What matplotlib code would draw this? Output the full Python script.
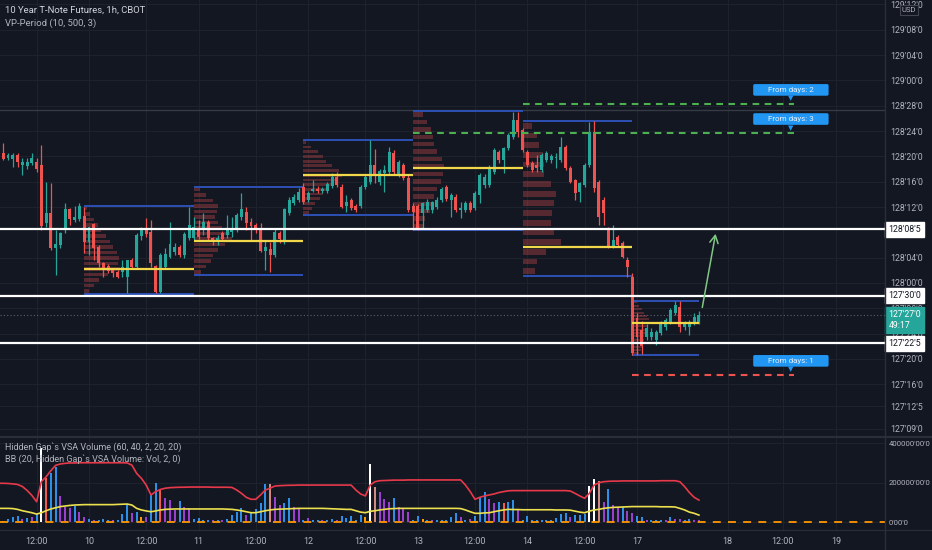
import numpy as np
import matplotlib
matplotlib.use('Agg')
import matplotlib.pyplot as plt
from matplotlib.transforms import blended_transform_factory
from matplotlib.lines import Line2D

# prices are in 32nds above 127'00 (so 128'08'5 -> 40.5)
first_bar = -1

opens = [53.2, 52.5, 51.8, 51.6, 52.2, 50.6, 50.5, 51.0, 51.1, 50.6,
         41.5, 43.0, 37.5, 38.0, 40.4, 43.7, 42.0, 42.1, 42.6, 38.5,
         41.3, 37.7, 35.2, 34.7, 34.2, 33.7, 33.7, 32.9, 35.6, 34.5,
         39.4, 40.7, 40.0, 34.7, 30.6, 34.5, 36.1, 36.9, 37.7, 36.4,
         39.1, 39.1, 40.6, 40.4, 41.6, 39.1, 38.5, 39.9, 39.6, 40.0,
         40.4, 42.4, 43.2, 41.6, 41.2, 40.7, 37.1, 37.4, 36.4, 39.9,
         38.8, 43.1, 44.6, 45.1, 47.2, 45.1, 46.6, 46.8, 46.6, 46.5,
         47.3, 48.7, 47.2, 44.2, 45.1, 44.2, 44.2, 47.2, 47.9, 50.6,
         47.9, 49.4, 49.5, 52.5, 49.1, 50.6, 48.6, 44.2, 44.2, 43.1,
         43.5, 43.6, 44.0, 45.1, 47.2, 45.1, 45.6, 43.5, 43.5, 44.6,
         43.8, 45.9, 47.5, 47.5, 49.5, 52.7, 51.4, 53.3, 55.1, 57.7,
         56.2, 52.7, 51.0, 50.6, 49.9, 51.4, 51.4, 51.7, 51.4, 53.5,
         50.2, 48.3, 46.4, 47.5, 50.6, 55.9, 48.0, 45.1, 40.4, 37.7,
         39.3, 38.3, 35.6, 33.0, 26.5, 24.5, 23.5, 23.5, 23.0, 24.1,
         25.0, 25.8, 27.3, 28.2, 25.0, 25.0, 25.7, 25.7]
highs = [53.6, 54.1, 52.6, 52.5, 52.6, 51.7, 51.8, 52.5, 51.7, 53.8,
         48.0, 47.8, 40.4, 40.1, 44.6, 43.8, 44.1, 44.6, 44.0, 40.9,
         41.5, 38.0, 35.3, 35.0, 34.4, 34.1, 35.6, 35.7, 36.0, 39.9,
         40.8, 42.3, 42.0, 34.8, 36.7, 37.5, 41.6, 38.3, 38.0, 40.0,
         44.0, 42.4, 42.0, 43.0, 42.0, 39.3, 39.5, 40.2, 42.7, 42.4,
         43.0, 46.2, 44.0, 42.3, 41.5, 41.5, 38.8, 38.5, 40.7, 40.2,
         43.9, 45.6, 46.0, 47.0, 47.8, 46.5, 48.3, 47.3, 47.2, 48.0,
         49.3, 49.5, 47.6, 45.9, 45.4, 44.5, 47.5, 49.0, 54.6, 53.2,
         50.0, 50.6, 53.5, 53.0, 51.5, 51.0, 49.0, 44.6, 44.5, 44.8,
         45.2, 45.0, 45.6, 47.1, 47.5, 46.2, 46.0, 44.8, 45.0, 45.0,
         46.5, 49.4, 49.2, 50.6, 53.3, 53.0, 53.5, 55.7, 59.0, 59.0,
         56.5, 53.0, 51.3, 52.2, 52.5, 52.9, 52.4, 52.5, 55.1, 53.8,
         50.5, 48.5, 48.0, 50.9, 57.4, 57.6, 48.3, 45.6, 40.8, 41.2,
         39.6, 38.6, 36.1, 33.6, 27.2, 26.0, 25.5, 24.9, 24.6, 26.0,
         26.5, 28.0, 29.2, 29.2, 26.0, 26.2, 27.3, 27.6]
lows = [52.3, 51.4, 51.5, 50.3, 50.3, 49.1, 50.0, 50.6, 49.6, 40.4,
        40.8, 37.2, 33.3, 37.5, 39.9, 41.2, 41.6, 41.8, 36.7, 36.4,
        35.6, 34.5, 32.9, 33.5, 33.0, 32.8, 32.9, 30.4, 34.2, 34.3,
        38.8, 39.3, 34.5, 30.4, 30.4, 34.3, 35.9, 36.4, 36.1, 35.9,
        38.8, 38.8, 39.0, 39.6, 38.8, 38.0, 38.0, 38.6, 39.1, 39.3,
        40.0, 41.9, 40.4, 38.8, 39.9, 36.9, 34.1, 33.8, 36.1, 38.3,
        38.2, 42.8, 44.3, 44.8, 44.4, 44.8, 46.4, 46.2, 46.2, 46.2,
        47.0, 47.2, 43.8, 43.2, 43.5, 43.2, 43.9, 46.9, 47.6, 47.8,
        47.5, 46.4, 49.2, 49.2, 48.8, 48.3, 43.2, 40.4, 40.3, 40.7,
        43.2, 43.0, 43.7, 44.8, 45.0, 42.4, 43.2, 42.2, 43.2, 43.2,
        43.5, 44.6, 47.0, 47.2, 49.2, 51.0, 49.4, 53.0, 54.8, 55.1,
        52.7, 50.3, 49.6, 49.5, 49.6, 51.1, 51.0, 50.2, 51.1, 49.9,
        47.8, 45.1, 44.8, 47.2, 50.3, 46.4, 41.2, 41.2, 37.5, 37.5,
        37.7, 35.9, 32.9, 20.6, 20.6, 20.8, 23.0, 23.0, 22.2, 23.8,
        24.6, 25.5, 27.0, 24.3, 24.6, 23.8, 25.4, 25.5]
closes = [52.5, 51.6, 52.2, 52.2, 51.1, 51.1, 51.1, 51.7, 50.0, 41.0,
          43.0, 37.5, 38.2, 39.9, 43.7, 42.1, 42.4, 44.2, 38.5, 40.8,
          37.5, 35.2, 34.4, 33.9, 33.6, 32.9, 34.5, 35.6, 34.5, 39.6,
          40.4, 39.7, 35.2, 30.6, 36.4, 36.6, 38.2, 37.7, 36.4, 39.7,
          41.2, 40.8, 39.3, 41.6, 39.1, 38.5, 39.1, 38.9, 40.7, 40.6,
          42.7, 43.7, 41.5, 41.0, 40.4, 37.1, 37.7, 36.4, 40.1, 38.9,
          43.7, 45.1, 45.6, 46.4, 44.8, 46.2, 46.9, 46.6, 46.8, 47.6,
          48.7, 47.5, 44.0, 44.8, 43.8, 43.5, 47.2, 48.7, 50.6, 49.1,
          49.7, 49.9, 52.7, 49.5, 51.1, 48.6, 43.5, 43.2, 40.7, 44.6,
          44.8, 44.8, 45.1, 46.8, 45.3, 45.9, 43.5, 43.8, 44.6, 43.5,
          46.2, 49.1, 48.7, 50.2, 53.0, 51.4, 53.3, 55.4, 57.7, 55.9,
          53.0, 50.6, 49.9, 50.2, 52.2, 52.5, 52.0, 51.8, 53.5, 50.2,
          48.0, 46.2, 47.8, 50.6, 55.9, 47.0, 42.5, 43.1, 37.7, 38.8,
          38.0, 36.1, 34.5, 20.9, 23.5, 22.0, 24.9, 24.3, 24.3, 25.7,
          26.2, 27.7, 28.5, 25.0, 25.7, 25.8, 26.6, 27.0]

# VSA volume (thousands) and bar type: b blue, p purple, r red, s salmon, w white, o orange
volume = [5, 5, 15, 25, 30, 15, 20, 25, 41, 375,
          223, 248, 278, 132, 76, 71, 81, 51, 25, 15,
          10, 10, 15, 10, 8, 10, 41, 91, 46, 51,
          25, 25, 137, 197, 167, 122, 111, 61, 106, 76,
          71, 15, 20, 10, 10, 8, 10, 8, 15, 35,
          51, 71, 35, 46, 66, 96, 192, 192, 127, 86,
          96, 122, 76, 66, 10, 20, 8, 10, 8, 8,
          15, 10, 30, 20, 30, 10, 35, 25, 294, 177,
          152, 116, 101, 122, 76, 66, 51, 10, 30, 15,
          10, 10, 8, 10, 8, 25, 46, 25, 8, 15,
          30, 127, 152, 116, 96, 101, 96, 101, 111, 66,
          10, 30, 10, 8, 10, 10, 8, 20, 41, 46,
          25, 35, 35, 41, 182, 218, 208, 101, 167, 86,
          76, 76, 56, 46, 30, 25, 10, 8, 8, 10,
          8, 25, 15, 13, 8, 13, 10, 10]
vol_kind = ("bobbbpbpbw" "rbbpppbppb" "pbbbpbbbpb" "opbbrpppbp" "pbbbbpbpbb"
            "bbpbbbbspp" "bbppbpbbpb" "bpbbbbbows" "pppbpppbbo" "bpbbbbbpbp"
            "bbbppbrbbp" "bbbbbbbbbb" "pbbbwwspbp" "pbppbbpbbb" "pbppbbpp")
bb_upper = [196, 196, 195, 193, 190, 180, 160, 135, 103, 204,
            229, 260, 287, 294, 297, 299, 299, 300, 300, 300,
            300, 300, 300, 300, 300, 300, 300, 299, 288, 246,
            221, 187, 137, 154, 165, 171, 174, 175, 176, 176,
            177, 177, 177, 177, 177, 176, 176, 176, 176, 175,
            162, 145, 125, 115, 115, 137, 162, 171, 182, 184,
            185, 186, 186, 187, 187, 187, 187, 187, 187, 187,
            187, 187, 187, 187, 187, 162, 142, 132, 187, 204,
            209, 210, 211, 212, 212, 212, 213, 213, 213, 213,
            213, 213, 213, 213, 213, 213, 213, 213, 187, 154,
            115, 125, 132, 137, 142, 149, 154, 158, 159, 159,
            159, 159, 159, 159, 159, 159, 159, 159, 159, 159,
            157, 145, 132, 120, 145, 187, 199, 204, 206, 207,
            207, 208, 208, 208, 208, 208, 208, 208, 208, 209,
            209, 209, 209, 204, 179, 149, 125, 111]
bb_basis = [69, 69, 69, 68, 64, 57, 52, 47, 40, 47,
            57, 66, 72, 78, 81, 84, 86, 87, 88, 88,
            88, 88, 88, 88, 88, 89, 90, 91, 86, 69,
            61, 56, 52, 56, 61, 64, 65, 66, 66, 66,
            66, 66, 66, 66, 66, 66, 66, 66, 65, 64,
            61, 57, 52, 47, 47, 52, 57, 61, 64, 65,
            66, 67, 68, 69, 69, 69, 69, 69, 69, 68,
            67, 66, 65, 64, 64, 57, 50, 47, 54, 57,
            61, 64, 67, 68, 69, 69, 69, 69, 69, 69,
            69, 69, 69, 69, 69, 69, 69, 68, 61, 52,
            44, 44, 46, 47, 52, 57, 61, 64, 63, 63,
            62, 62, 62, 62, 62, 62, 62, 61, 61, 61,
            60, 55, 50, 47, 55, 61, 64, 69, 72, 74,
            75, 76, 77, 78, 78, 78, 78, 78, 78, 77,
            77, 77, 76, 69, 61, 50, 44, 35]

# VP-Period sessions
vp_start = [17, 40, 63, 86, 109, 132]
vp_end = [40, 63, 86, 109, 132, 146]
vp_high = [44.2, 47.2, 54.6, 59.2, 57.6, 29.2]
vp_low = [30.3, 33.3, 42.7, 40.4, 33.1, 20.6]
vp_poc = [34.2, 38.6, 49.1, 50.2, 37.7, 25.7]
vp_profile = [
    [10, 20, 30, 50, 75, 70, 72, 68, 60, 54, 45, 36, 28, 20, 13, 6],
    [15, 25, 35, 40, 50, 65, 80, 75, 60, 50, 45, 48, 50, 40, 25, 12],
    [12, 18, 25, 35, 42, 50, 60, 70, 80, 75, 60, 48, 42, 30, 15, 6],
    [20, 25, 35, 40, 45, 50, 58, 62, 64, 60, 50, 45, 42, 38, 30, 20],
    [25, 30, 50, 80, 65, 60, 62, 65, 70, 60, 45, 45, 42, 35, 30, 20],
    [15, 18, 20, 22, 25, 25, 28, 30, 34, 38, 35, 30, 25, 20, 15, 10],
]

# drawn levels
key_levels = [40.5, 30.0, 22.5]
last_price = 27.0
countdown = '49:17'
fd_days = [1, 2, 3]
fd_level = [17.5, 60.3, 55.7]
fd_start = [132, 109, 86]
fd_end = 166
ref_level = 59.3
arrow_from = (146.6, 27.7)
arrow_to = (149.6, 40.2)

price_ticks = [76, 72, 68, 64, 60, 56, 52, 48, 44, 36, 32, 28, 24, 20, 16, 12.5, 9]
vol_ticks = [0, 200, 400]
vol_labels = ["0'00'0", "200000'00'0", "400000'00'0"]
time_ticks = [7, 18, 30, 41, 53, 64, 76, 87, 99, 110, 122, 133, 152, 163.6, 174.8]
time_labels = ['12:00', '10', '12:00', '11', '12:00', '12', '12:00', '13',
               '12:00', '14', '12:00', '17', '18', '12:00', '19']

BG = '#131722'
TXT = '#b2b5be'
GRID = '#1e222d'
UP = '#26a69a'
DN = '#ef5350'
kind_color = {'b': '#2f8ee6', 'p': '#9b3fcf', 'r': '#f05a4f', 's': '#d08a82',
              'w': '#ffffff', 'o': '#ff9800'}


def fmt32(v):
    whole = 127 + int(v // 32)
    rem = v - 32 * (v // 32)
    return "%d'%02d'%s" % (whole, int(rem), '5' if rem % 1 >= 0.5 else '0')


plt.rcParams['font.family'] = ['Roboto', 'DejaVu Sans']

fig = plt.figure(figsize=(9.32, 5.5), dpi=100, facecolor=BG)
ax = fig.add_axes([0, 113 / 550, 885 / 932, 437 / 550], facecolor=BG)
axv = fig.add_axes([0, 20 / 550, 885 / 932, 93 / 550], facecolor=BG, sharex=ax)

x = np.arange(first_bar, first_bar + len(opens))
o = np.array(opens)
h = np.array(highs)
l = np.array(lows)
c = np.array(closes)
col = np.where(c >= o, UP, DN)

# volume profiles + boxes
scale = 8.0 / 80
for s, e, hi, lo, poc, prof in zip(vp_start, vp_end, vp_high, vp_low, vp_poc, vp_profile):
    n = len(prof)
    rh = (hi - lo) / n
    yc = lo + rh * (np.arange(n) + 0.5)
    ax.barh(yc, np.array(prof) * scale, left=s, height=rh * 0.6,
            color=DN, alpha=0.3, lw=0, zorder=2)
    ax.hlines([hi, lo], s, e, color='#2d50b4', lw=1.4, zorder=3)
    ax.hlines(poc, s, e, color='#f0d84a', lw=1.6, zorder=7)

# candles
ax.vlines(x, l, h, colors=col, lw=0.9, zorder=5)
ax.bar(x, np.maximum(np.abs(c - o), 0.18), bottom=np.minimum(o, c), width=0.62,
       color=col, lw=0, zorder=6)

for lv in key_levels:
    ax.axhline(lv, color='white', lw=1.6, zorder=8)
ax.axhline(ref_level, color='#363a45', lw=1.0, zorder=1)
ax.axhline(last_price, color='#5d606b', lw=0.8, ls=(0, (1, 2)), zorder=1)

for d, lv, s in zip(fd_days, fd_level, fd_start):
    lc = DN if d == 1 else '#4caf50'
    ax.hlines(lv, s, fd_end, color=lc, lw=1.5, linestyles=(0, (3.2, 2.6)), zorder=8)
    ax.text(fd_end - 0.7, lv + 2.2, '      From days: %d      ' % d, ha='center', va='center',
            fontsize=5.8, color='#e8f1fb', zorder=11,
            bbox=dict(boxstyle='round,pad=0.35,rounding_size=0.2', fc='#2196f3', ec='none'))
    ax.text(fd_end - 0.7, lv + 0.75, '\u25bc', ha='center', va='center', fontsize=5,
            color='#2196f3', zorder=11)

ax.annotate('', xy=arrow_to, xytext=arrow_from,
            arrowprops=dict(arrowstyle='->,head_length=0.55,head_width=0.3',
                            color='#81c784', lw=1.1), zorder=9)

# volume pane
axv.bar(x, volume, width=0.42, color=[kind_color[k] for k in vol_kind], lw=0, zorder=3)
axv.plot(x, bb_upper, color='#e8394a', lw=1.2, zorder=4)
axv.plot(x, bb_basis, color='#ece04f', lw=1.2, zorder=4)
axv.axhline(0, color='#ff9800', lw=1.3, ls=(0, (4.4, 4)), zorder=5)

for a in (ax, axv):
    for sp in a.spines.values():
        sp.set_visible(False)
    a.yaxis.tick_right()
    a.tick_params(length=0, colors=TXT, labelsize=6.3)
    a.tick_params(axis='y', pad=4)
    a.grid(color=GRID, lw=0.8)
    a.set_axisbelow(True)

ax.set_xlim(-0.68, 185.05)
ax.set_ylim(7.67, 76.7)
ax.set_yticks(price_ticks, [fmt32(v) for v in price_ticks])
ax.tick_params(axis='x', labelbottom=False)
axv.set_ylim(-40.5, 430.4)
axv.set_yticks(vol_ticks, vol_labels)
axv.tick_params(axis='y', pad=2.5, labelsize=5.6)
axv.set_xticks(time_ticks, time_labels)
axv.tick_params(axis='x', pad=5, labelsize=6.5)

# price tags on the right scale
tr = blended_transform_factory(ax.transAxes, ax.transData)
for lv in key_levels:
    ax.text(1.004, lv, fmt32(lv), transform=tr, ha='left', va='center', fontsize=6.3,
            color=BG, clip_on=False, zorder=20,
            bbox=dict(boxstyle='square,pad=0.35', fc='white', ec='white'))
ax.annotate(fmt32(last_price) + '\n' + countdown, xy=(1.004, last_price), xycoords=tr,
            xytext=(0, 3.5), textcoords='offset points', ha='left', va='top',
            fontsize=6.3, color='white', linespacing=1.35, annotation_clip=False, zorder=20,
            bbox=dict(boxstyle='square,pad=0.35', fc=UP, ec=UP))

# legends
fig.text(5 / 932, 1 - 10 / 550, '10 Year T-Note Futures, 1h, CBOT', fontsize=6.8,
         color='#d1d4dc', va='center')
fig.text(5 / 932, 1 - 23 / 550, 'VP-Period (10, 500, 3)', fontsize=6.8, color=TXT, va='center')
fig.text(5 / 932, 1 - 447 / 550, 'Hidden Gap`s VSA Volume (60, 40, 2, 20, 20)', fontsize=6.5,
         color=TXT, va='center', zorder=10)
fig.text(5 / 932, 1 - 459 / 550, 'BB (20, Hidden Gap`s VSA Volume: Vol, 2, 0)', fontsize=6.5,
         color=TXT, va='center', zorder=10)
fig.text(909 / 932, 1 - 10 / 550, 'USD', fontsize=5.5, color=TXT, ha='center', va='center',
         bbox=dict(boxstyle='square,pad=0.25', fc=BG, ec='#434651', lw=0.8))

# pane separators
fig.add_artist(Line2D([0, 1], [113 / 550, 113 / 550], color='#2a2e39', lw=1.6))
fig.add_artist(Line2D([885 / 932, 885 / 932], [0, 1], color='#2a2e39', lw=1.0))
fig.add_artist(Line2D([0, 1], [20 / 550, 20 / 550], color='#2a2e39', lw=0.8))

fig.savefig('out.png', dpi=100, facecolor=BG)
